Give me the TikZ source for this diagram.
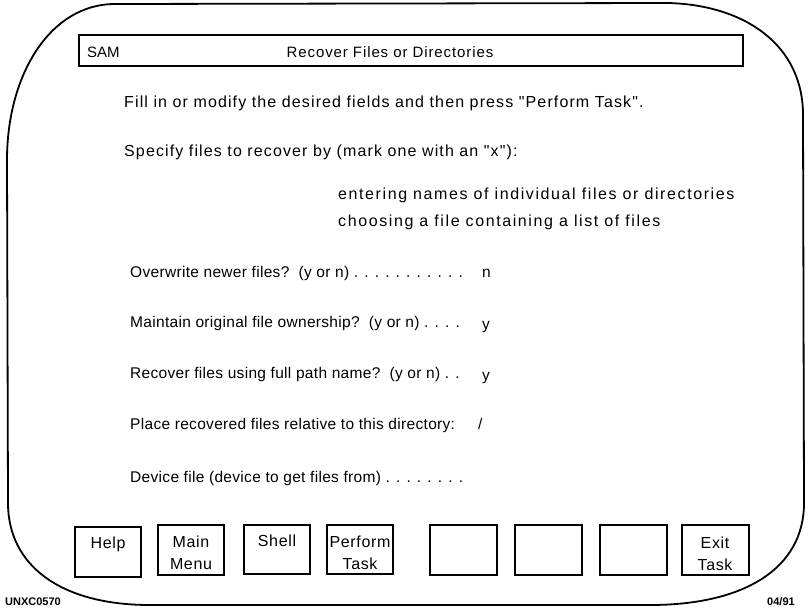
\documentclass[tikz,border=0pt]{standalone}
\usepackage{fontspec}
\setmainfont{Liberation Sans}[Ligatures=TeXOff]
\begin{document}
\begin{tikzpicture}[x=1pt,y=-1pt,
  txt/.style={anchor=base west,inner sep=0pt,font=\fontsize{16}{18}\selectfont\addfontfeatures{LetterSpace=7}},
  wide/.style={anchor=base west,inner sep=0pt,font=\fontsize{16}{18}\selectfont\addfontfeatures{LetterSpace=10}},
  fld/.style={anchor=base west,inner sep=0pt,font=\fontsize{15.5}{18}\selectfont\addfontfeatures{LetterSpace=2}},
  btn/.style={draw,line width=1.6pt},
  btxt/.style={anchor=base,inner sep=0pt,font=\fontsize{16}{18}\selectfont\addfontfeatures{LetterSpace=4}},
  small/.style={inner sep=0pt,font=\bfseries\fontsize{11}{13}\selectfont}]
\useasboundingbox (0,0) rectangle (811,613);
% bezel
\draw[line width=1.8pt] (115,4) -- (668,3) .. controls (745,5) and (803,45) .. (803,115)
  -- (804,503) .. controls (804,568) and (745,605) .. (650,605)
  -- (150,605) .. controls (60,605) and (8,565) .. (8,503)
  -- (7,160) .. controls (7,75) and (50,4) .. (115,4) -- cycle;
% title bar
\draw[line width=1.4pt] (79,35) rectangle (743,66);
\node[anchor=base west,inner sep=0pt,font=\fontsize{15}{17}\selectfont] (sam) at (87,57) {SAM};
\node[anchor=base,inner sep=0pt,font=\fontsize{15}{17}\selectfont\addfontfeatures{LetterSpace=6}] (title) at (390,57) {Recover Files or Directories};
% body
\node[txt] (fill) at (124,107) {Fill in or modify the desired fields and then press "Perform Task".};
\node[txt] (spec) at (124,156) {Specify files to recover by (mark one with an "x"):};
\node[wide] (ent) at (338,199) {entering names of individual files or directories};
\node[wide] (cho) at (338,226) {choosing a file containing a list of files};
\node[fld] (ovw) at (130,277) {Overwrite newer files?\ \ (y or n) . . . . . . . . . . .};
\node[fld] (ovwv) at (482,277) {n};
\node[fld] (own) at (130,327) {Maintain original file ownership?\ \ (y or n) . . . .};
\node[fld] (ownv) at (482,329) {y};
\node[fld] (path) at (130,378) {Recover files using full path name?\ \ (y or n) . .};
\node[fld] (pathv) at (482,380) {y};
\node[fld] (plc) at (130,429) {Place recovered files relative to this directory:};
\node[fld] (plcv) at (478,429) {/};
\node[fld] (dev) at (130,482) {Device file (device to get files from) . . . . . . . .};
% buttons
\draw[btn] (75,527) rectangle (141,577);
\node[btxt] (help) at (108,548) {Help};
\draw[btn] (158,525) rectangle (224,575);
\node[btxt] (main) at (191,547) {Main};
\node[btxt] (menu) at (191,569) {Menu};
\draw[btn] (244,525) rectangle (310,574);
\node[btxt] (shell) at (277,546) {Shell};
\draw[btn] (327,525) rectangle (393,574);
\node[btxt] (perf) at (360,547) {Perform};
\node[btxt] (ptask) at (360,569) {Task};
\draw[btn] (430,525) rectangle (497,575);
\draw[btn] (515,525) rectangle (582,575);
\draw[btn] (600,525) rectangle (667,575);
\draw[btn] (682,525) rectangle (749,575);
\node[btxt] (exit) at (715,548) {Exit};
\node[btxt] (etask) at (715,570) {Task};
% footer
\node[small,anchor=base west] (code) at (5,605) {UNXC0570};
\node[small,anchor=base west] (date) at (767,605) {04/91};
\end{tikzpicture}
\end{document}
